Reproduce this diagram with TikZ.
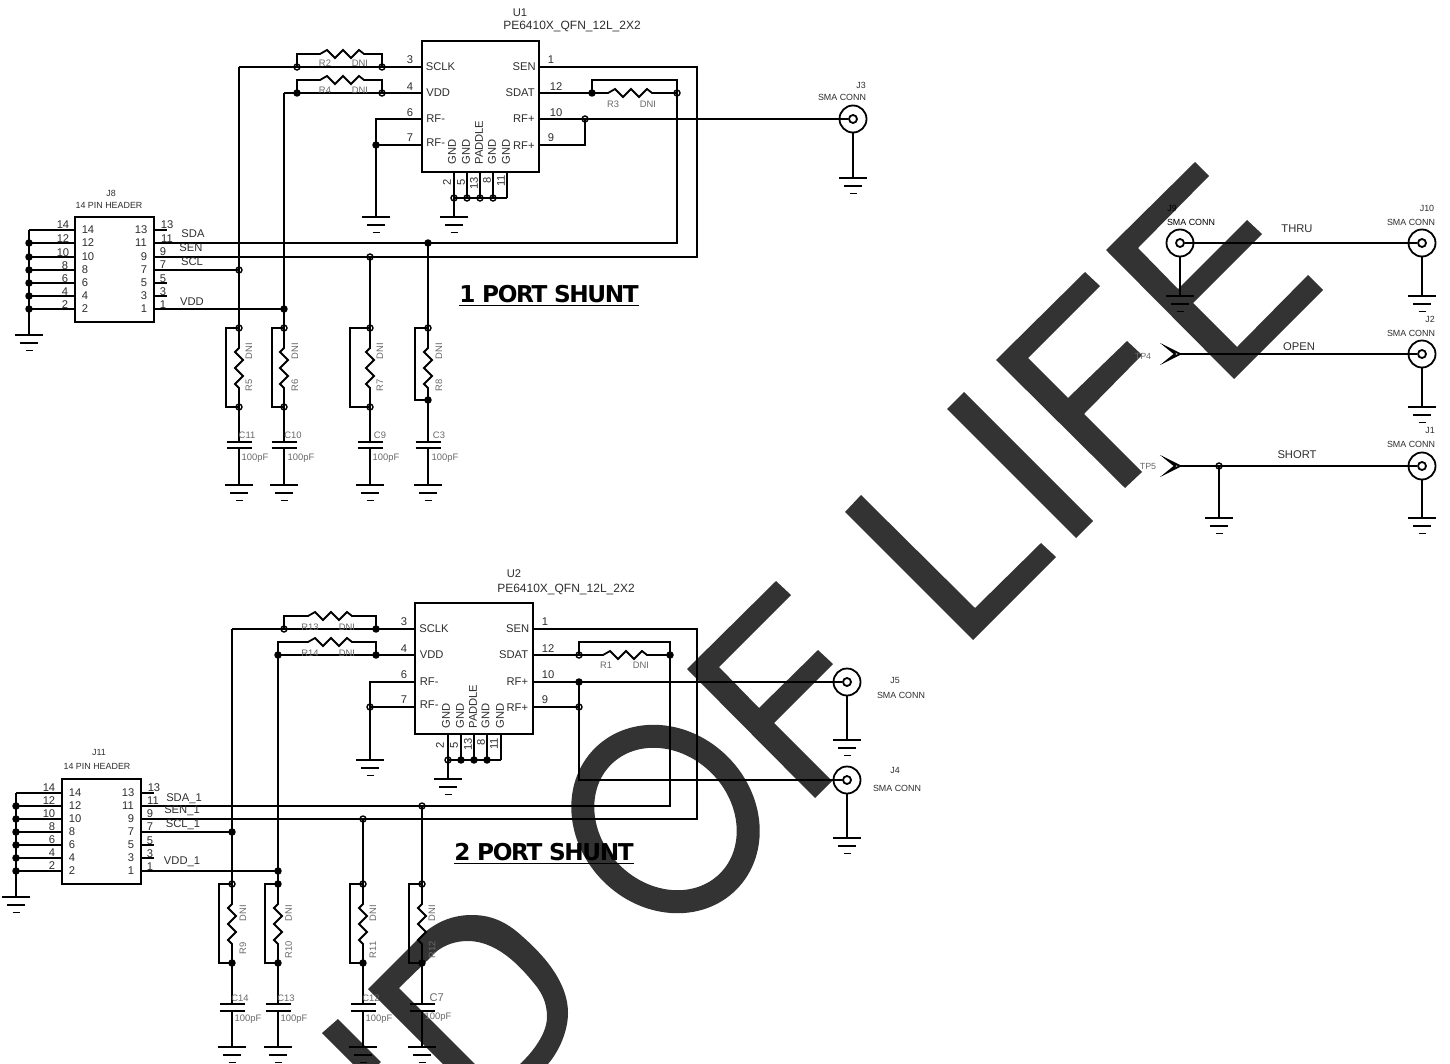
\documentclass[tikz,border=0pt]{standalone}
\usepackage{fontspec}
\setmainfont{Liberation Sans}
\newfontfamily\titlefont[LetterSpace=-6]{DejaVu Sans Bold}
\newcounter{lab}
\newcommand\T[4][pin]{\stepcounter{lab}\node[#1] (t\thelab) at (#2,#3) {#4};}
\newcommand\Cd[3]{\coordinate (#1) at (#2,#3);}
\newcommand\od[1]{\node[odot] (d#1) at (#1) {};}
\newcommand\fd[1]{\node[fdot] (d#1) at (#1) {};}
\newcommand\gnd[1]{\draw[gb] (#1) ++(-14,0) -- ++(28,0) ++(-23,8) -- ++(18,0) ++(-12.5,7.5) -- ++(7,0);}
\newcommand\sma[3]{\node[smao] (#1) at (#2,#3) {};\node[smai] (#1i) at (#2,#3) {};}
\newcommand\vres[5]{% name x ytop ybot xbypass
 \Cd{#1t}{#2}{#3}\Cd{#1b}{#2}{#4}\Cd{#1m}{#2}{#3+20}
 \draw[w] (#1t) -- (#1m) -- ++(-4,4) -- ++(8,8) -- ++(-8,8) -- ++(8,8) -- ++(-8,8) -- ++(4,4) -- (#1b);
 \draw[w] (#1t) -- (#5,#3) -- (#5,#4) -- (#1b);}
\newcommand\zz{-- ++(7,-4) -- ++(8,8) -- ++(8,-8) -- ++(8,8) -- ++(8,-8) -- ++(5,4)}
\tikzset{
 w/.style={line width=0.9pt,line cap=butt,line join=miter},
 gb/.style={line width=0.95pt},
 box/.style={draw,line width=1.05pt,inner sep=0pt},
 odot/.style={circle,draw,line width=0.7pt,inner sep=0pt,minimum size=3pt},
 fdot/.style={circle,draw,fill=black,line width=0.5pt,inner sep=0pt,minimum size=3.2pt},
 smao/.style={circle,draw,line width=0.9pt,inner sep=0pt,minimum size=13.5pt},
 smai/.style={circle,draw,line width=0.9pt,inner sep=0pt,minimum size=4pt},
 wm/.style={fill=wmc,draw=none},
 pin/.style={font=\fontsize{5.6}{6}\selectfont,text=tc,inner sep=0pt},
 part/.style={font=\fontsize{6}{7}\selectfont,text=tc,inner sep=0pt},
 tiny/.style={font=\fontsize{4.7}{5}\selectfont,text=gc,inner sep=0pt},
 tinyr/.style={tiny,rotate=90},
 sm/.style={font=\fontsize{4.45}{5}\selectfont,text=tc,inner sep=0pt},
 pinr/.style={pin,rotate=90},
 pinb/.style={pin,rotate=90,anchor=west},
 net/.style={font=\fontsize{5.6}{6}\selectfont,text=tc,inner sep=0pt},
 big/.style={font=\fontsize{11.6}{14}\titlefont,text=black,inner sep=0pt},
}
\definecolor{wmc}{HTML}{333333}
\definecolor{tc}{HTML}{2E2E2E}
\definecolor{gc}{HTML}{6A6A6A}
\begin{document}
\begin{tikzpicture}[x=0.5pt,y=-0.5pt]
\useasboundingbox (0,0) rectangle (1450,1064);
\fill[white] (0,0) rectangle (1450,1064);
\begin{scope}
\clip (0,0) rectangle (1450,1064);
% watermark
\fill[wm] (1195,162)--(1209,176)--(1138,248)--(1178,289)--(1247,220)--(1262,234)--(1193,303)--(1237,347)--(1308,275)--(1323,290)--(1234,379)--(1106,250)--cycle;
\fill[wm] (1085,272)--(1100,286)--(1028,358)--(1068,398)--(1127,341)--(1142,355)--(1084,414)--(1142,472)--(1125,488)--(996,360)--cycle;
\fill[wm] (964,392)--(947,409)--(1076,538)--(1093,521)--cycle;
\fill[wm] (861,495)--(975,608)--(1041,543)--(1056,557)--(973,640)--(845,512)--cycle;
\fill[wm] (776,581)--(791,595)--(719,667)--(759,708)--(818,650)--(833,664)--(774,723)--(832,781)--(815,798)--(687,669)--cycle;
\draw[wmc,line width=11.5pt] (665.5,819) ellipse [x radius=88.5,y radius=76.5,rotate=-45];
\fill[wm] (368,989)--(425,932) .. controls (440,920) and (455,915) .. (472,915) .. controls (495,915) and (510,925) .. (523,937) .. controls (540,952) and (568,980) .. (568,1013) .. controls (568,1030) and (560,1050) .. (548,1064)--(520,1064) .. controls (535,1050) and (547,1032) .. (547,1017) .. controls (547,1003) and (542,994) .. (537,987) .. controls (525,972) and (500,941) .. (468,941) .. controls (455,941) and (445,945) .. (437,951)--(399,988)--(475,1064)--(443,1064)--cycle;
\fill[wm] (338,1019)--(322,1033)--(365,1076)--(381,1062)--cycle;
\end{scope}

% ---------- circuit 1 ----------
\node[box,minimum width=58.5pt,minimum height=65.5pt] (U1) at (480.5,106.5) {};
\Cd{a3}{422}{67}\Cd{a4}{422}{93}\Cd{a6}{422}{119}\Cd{a7}{422}{145}
\Cd{a1}{539}{67}\Cd{a12}{539}{93}\Cd{a10}{539}{119}\Cd{a9}{539}{145}
\Cd{ax}{239}{67}\Cd{ay}{284}{93}
\Cd{ar2l}{297}{67}\Cd{ar2r}{382}{67}\Cd{ar4l}{297}{93}\Cd{ar4r}{382}{93}
\draw[w] (ax) -- (a3); \draw[w] (ay) -- (a4);
\draw[w] (ar2l) -- (297,54) -- (320,54) \zz -- (382,54) -- (ar2r);
\draw[w] (ar4l) -- (297,80) -- (320,80) \zz -- (382,80) -- (ar4r);
\od{ar2l}\od{ar2r}\fd{ar4l}\od{ar4r}
\T[tiny]{325}{63}{R2}\T[tiny]{360}{63}{DNI}\T[tiny]{325}{90}{R4}\T[tiny]{360}{90}{DNI}
% RF-
\Cd{ag}{376}{217}\Cd{an}{376}{119}\Cd{am}{376}{145}
\draw[w] (a6) -- (an) -- (ag); \draw[w] (a7) -- (am); \fd{am}\gnd{ag}
% bottom pins
\Cd{ab1}{454}{198}\Cd{ab2}{467}{198}\Cd{ab3}{480}{198}\Cd{ab4}{493}{198}\Cd{ab5}{507}{198}\Cd{abg}{454}{217}
\foreach \i/\x in {1/454,2/467,3/480,4/493,5/507}{\draw[w] (\x,172) -- (ab\i);}
\draw[w] (ab1) -- (ab5); \draw[w] (ab1) -- (abg); \gnd{abg}
\od{ab1}\od{ab2}\od{ab3}\od{ab4}
% right side
\Cd{aH11}{154}{243}\Cd{aH9}{154}{257}\Cd{aH7}{154}{270}\Cd{aH1}{154}{309}
\Cd{ar3l}{592}{93}\Cd{ar3r}{677}{93}
\draw[w] (a1) -- (697,67) -- (697,257) -- (aH9);
\draw[w] (a12) -- (ar3l) -- (608,93) \zz -- (ar3r) -- (677,243) -- (aH11);
\draw[w] (ar3l) -- (592,80) -- (677,80) -- (ar3r);
\fd{ar3l}\od{ar3r}
\T[tiny]{613}{104}{R3}\T[tiny]{648}{104}{DNI}
\sma{J3}{853}{119}
\Cd{ar}{585}{119}\Cd{a9r}{585}{145}\Cd{Jg3}{853}{178}
\draw[w] (a10) -- (J3i.west); \draw[w] (a9) -- (a9r) -- (ar); \od{ar}
\draw[w] (J3.south) -- (Jg3); \gnd{Jg3}
\T[sm]{861}{85}{J3}\T[sm]{842}{97}{SMA CONN}
% header J8
\node[box,minimum width=39.5pt,minimum height=52.5pt] (J8) at (114.5,269.5) {};
\draw[w] (29,230) -- (75,230);
\foreach \y in {243,257,270,283,296,309}{\draw[w] (29,\y) -- (75,\y);}
\Cd{agh}{29}{335}\draw[w] (29,230) -- (agh); \gnd{agh}
\foreach \y in {243,257,270,283,296,309}{\node[fdot] at (29,\y) {};}
\draw[w] (154,230) -- (167,230); \draw[w] (154,283) -- (167,283); \draw[w] (154,296) -- (167,296);
% vertical nets
\Cd{aj7}{239}{270}\Cd{aj1}{284}{309}\Cd{aj9}{370}{257}\Cd{aj11}{428}{243}
\draw[w] (aH7) -- (aj7); \draw[w] (aH1) -- (aj1);
\draw[w] (ax) -- (239,328); \draw[w] (ay) -- (284,328);
\draw[w] (aj9) -- (370,328); \draw[w] (aj11) -- (428,328);
\vres{aR5}{239}{328}{407}{226}\vres{aR6}{284}{328}{407}{272}\vres{aR7}{370}{328}{407}{350}\vres{aR8}{428}{328}{400}{415}
\od{aj7}\fd{aj1}\od{aj9}\fd{aj11}
\od{aR5t}\od{aR6t}\od{aR7t}\od{aR8t}\od{aR5b}\od{aR6b}\od{aR7b}\fd{aR8b}
\foreach \n/\x/\yb in {a/239/407,b/284/407,c/370/407,d/428/400}{
 \coordinate (ac\n) at (\x,442); \coordinate (ad\n) at (\x,448); \coordinate (ae\n) at (\x,485); \coordinate (af\n) at (\x,\yb);
 \draw[w] (af\n) -- (ac\n); \draw[w] (ad\n) -- (ae\n);
 \draw[gb] (ac\n) ++(-12.5,0) -- ++(25,0); \draw[gb] (ad\n) ++(-12.5,0) -- ++(25,0);
 \gnd{ae\n}}
% circuit 1 labels
\T{520}{12.5}{U1}\T[part]{572}{27}{PE6410X\_QFN\_12L\_2X2}
\T{410}{60}{3}\T{410}{87}{4}\T{410}{113}{6}\T{410}{138}{7}
\T{551}{60}{1}\T{556}{87}{12}\T{556}{113}{10}\T{551}{138}{9}
\T[pin,anchor=west]{425.5}{67}{SCLK}\T[pin,anchor=west]{426}{93}{VDD}\T[pin,anchor=west]{426}{119}{RF-}\T[pin,anchor=west]{426}{143}{RF-}
\T[pin,anchor=east]{536}{67}{SEN}\T[pin,anchor=east]{535}{93}{SDAT}\T[pin,anchor=east]{535}{119}{RF+}\T[pin,anchor=east]{535}{146}{RF+}
\T[pinb]{452}{165}{GND}\T[pinb]{466}{165}{GND}\T[pinb]{479}{165}{PADDLE}\T[pinb]{492}{165}{GND}\T[pinb]{506}{165}{GND}
\T[pinr]{447}{182}{2}\T[pinr]{461}{182}{5}\T[pinr]{474}{183}{13}\T[pinr]{487}{180}{8}\T[pinr]{501}{181}{11}
\T[sm]{111}{193}{J8}\T[sm]{109}{205}{14 PIN HEADER}
\T{63}{225}{14}\T{63}{239}{12}\T{63}{253}{10}\T{65}{266}{8}\T{65}{279}{6}\T{65}{292}{4}\T{65}{305}{2}
\T{88}{230}{14}\T{88}{243}{12}\T{88}{257}{10}\T{85}{270}{8}\T{85}{283}{6}\T{85}{296}{4}\T{85}{309}{2}
\T{141}{230}{13}\T{141}{243}{11}\T{144}{257}{9}\T{144}{270}{7}\T{144}{283}{5}\T{144}{296}{3}\T{144}{309}{1}
\T{167}{225}{13}\T{167}{239}{11}\T{163}{252}{9}\T{163}{265}{7}\T{163}{279}{5}\T{163}{292}{3}\T{163}{305}{1}
\T[net]{193}{233.5}{SDA}\T[net]{191}{248}{SEN}\T[net]{192}{262}{SCL}\T[net]{192}{302}{VDD}
\T[tinyr]{249}{351}{DNI}\T[tinyr]{249}{385}{R5}\T[tinyr]{295}{351}{DNI}\T[tinyr]{295}{385}{R6}\T[tinyr]{380}{351}{DNI}\T[tinyr]{380}{385}{R7}\T[tinyr]{439}{351}{DNI}\T[tinyr]{439}{385}{R8}
\T[tiny]{247}{435}{C11}\T[tiny]{255}{458}{100pF}\T[tiny]{293}{435}{C10}\T[tiny]{301}{458}{100pF}\T[tiny]{380}{435}{C9}\T[tiny]{386}{458}{100pF}\T[tiny]{439}{435}{C3}\T[tiny]{445}{458}{100pF}
\T[big]{549}{296}{\underline{1 PORT SHUNT}}

% ---------- test structures ----------
\sma{J9}{1180}{243}\sma{J10}{1422}{243}\sma{J2}{1422}{354}\sma{J1}{1422}{466}
\Cd{Tg9}{1180}{296}\Cd{Tg10}{1422}{296}\Cd{Tg2}{1422}{407}\Cd{Tg1}{1422}{518}
\draw[w] (J9i.east) -- (J10i.west);
\draw[w] (J9.south) -- (Tg9); \draw[w] (J10.south) -- (Tg10); \draw[w] (J2.south) -- (Tg2); \draw[w] (J1.south) -- (Tg1);
\gnd{Tg9}\gnd{Tg10}\gnd{Tg2}\gnd{Tg1}
\Cd{TP4}{1180}{354}\Cd{TP5}{1180}{466}\Cd{Tj}{1219}{466}\Cd{Tg5}{1219}{518}
\draw[w] (TP4) -- (J2i.west); \draw[w] (TP5) -- (J1i.west); \draw[w] (Tj) -- (Tg5); \od{Tj}\gnd{Tg5}
\draw[w] (1167,347.5) -- (TP4) -- (1167,360.5) -- (1175,354) -- cycle;
\draw[w] (1167,459.5) -- (TP5) -- (1167,472.5) -- (1175,466) -- cycle;
\T[sm,text=black]{1172}{208}{J9}\T[sm,text=black]{1191}{222}{SMA CONN}\T[sm]{1427}{208}{J10}\T[sm]{1411}{222}{SMA CONN}
\T[sm]{1430}{319}{J2}\T[sm]{1411}{333}{SMA CONN}\T[sm]{1430}{430}{J1}\T[sm]{1411}{444}{SMA CONN}
\T[net]{1297}{229}{THRU}\T[net]{1299}{347}{OPEN}\T[net]{1297}{455}{SHORT}
\T[sm,text=gc]{1143}{356}{TP4}\T[sm,text=gc]{1148}{466}{TP5}

% ---------- circuit 2 ----------
\node[box,minimum width=59pt,minimum height=65.5pt] (U2) at (474,668.5) {};
\Cd{b3}{415}{629}\Cd{b4}{415}{655}\Cd{b6}{415}{682}\Cd{b7}{415}{707}
\Cd{b1}{533}{629}\Cd{b12}{533}{655}\Cd{b10}{533}{682}\Cd{b9}{533}{707}
\Cd{bx}{232}{629}\Cd{by}{278}{655}
\Cd{br2l}{284}{629}\Cd{br2r}{376}{629}\Cd{br4l}{278}{655}\Cd{br4r}{376}{655}
\draw[w] (bx) -- (b3); \draw[w] (by) -- (b4);
\draw[w] (br2l) -- (284,616) -- (308,616) \zz -- (376,616) -- (br2r);
\draw[w] (br4l) -- (278,642) -- (308,642) \zz -- (376,642) -- (br4r);
\od{br2l}\fd{br2r}\fd{br4l}\fd{br4r}
\T[tiny]{310}{627}{R13}\T[tiny]{347}{627}{DNI}\T[tiny]{310}{653}{R14}\T[tiny]{347}{653}{DNI}
\Cd{bg}{370}{760}\Cd{bn}{370}{682}\Cd{bm}{370}{707}
\draw[w] (b6) -- (bn) -- (bg); \draw[w] (b7) -- (bm); \od{bm}\gnd{bg}
\Cd{bb1}{448}{760}\Cd{bb2}{461}{760}\Cd{bb3}{474}{760}\Cd{bb4}{487}{760}\Cd{bb5}{501}{760}\Cd{bbg}{448}{779}
\foreach \i/\x in {1/448,2/461,3/474,4/487,5/501}{\draw[w] (\x,734) -- (bb\i);}
\draw[w] (bb1) -- (bb5); \draw[w] (bb1) -- (bbg); \gnd{bbg}
\od{bb1}\fd{bb2}\fd{bb3}\fd{bb4}
\Cd{bH11}{141}{806}\Cd{bH9}{141}{819}\Cd{bH7}{141}{832}\Cd{bH1}{141}{871}
\Cd{br3l}{579}{655}\Cd{br3r}{670}{655}
\draw[w] (b1) -- (697,629) -- (697,819) -- (bH9);
\draw[w] (b12) -- (br3l) -- (603,655) \zz -- (br3r) -- (670,806) -- (bH11);
\draw[w] (br3l) -- (579,642) -- (670,642) -- (br3r);
\od{br3l}\fd{br3r}
\T[tiny]{606}{665}{R1}\T[tiny]{641}{665}{DNI}
\sma{J5}{847}{682}\sma{J4}{847}{780}
\Cd{br}{579}{682}\Cd{b9r}{579}{707}\Cd{bl}{579}{780}\Cd{Jg5}{847}{740}\Cd{Jg4}{847}{838}
\draw[w] (b10) -- (J5i.west); \draw[w] (b9) -- (b9r); \draw[w] (br) -- (bl) -- (J4i.west);
\fd{br}\od{b9r}
\draw[w] (J5.south) -- (Jg5); \draw[w] (J4.south) -- (Jg4); \gnd{Jg5}\gnd{Jg4}
\T[sm]{895}{680}{J5}\T[sm]{901}{695}{SMA CONN}\T[sm]{895}{770}{J4}\T[sm]{897}{788}{SMA CONN}
% header J11
\node[box,minimum width=39.5pt,minimum height=52.5pt] (J11) at (101.5,831.5) {};
\draw[w] (16,793) -- (62,793);
\foreach \y in {806,819,832,845,858,871}{\draw[w] (16,\y) -- (62,\y);}
\Cd{bgh}{16}{897}\draw[w] (16,793) -- (bgh); \gnd{bgh}
\foreach \y in {806,819,832,845,858,871}{\node[fdot] at (16,\y) {};}
\draw[w] (141,793) -- (154,793); \draw[w] (141,845) -- (154,845); \draw[w] (141,858) -- (154,858);
\Cd{bj7}{232}{832}\Cd{bj1}{278}{871}\Cd{bj9}{363}{819}\Cd{bj11}{422}{806}
\draw[w] (bH7) -- (bj7); \draw[w] (bH1) -- (bj1);
\draw[w] (bx) -- (232,884); \draw[w] (by) -- (278,884);
\draw[w] (bj9) -- (363,884); \draw[w] (bj11) -- (422,884);
\vres{bR5}{232}{884}{963}{219}\vres{bR6}{278}{884}{963}{265}\vres{bR7}{363}{884}{963}{350}\vres{bR8}{422}{884}{963}{409}
\fd{bj7}\fd{bj1}\od{bj9}\od{bj11}
\od{bR5t}\fd{bR6t}\od{bR7t}\od{bR8t}\fd{bR5b}\fd{bR6b}\fd{bR7b}\fd{bR8b}
\foreach \n/\x in {a/232,b/278,c/363,d/422}{
 \coordinate (bc\n) at (\x,1004); \coordinate (bd\n) at (\x,1011); \coordinate (be\n) at (\x,1047); \coordinate (bf\n) at (\x,963);
 \draw[w] (bf\n) -- (bc\n); \draw[w] (bd\n) -- (be\n);
 \draw[gb] (bc\n) ++(-12.5,0) -- ++(25,0); \draw[gb] (bd\n) ++(-12.5,0) -- ++(25,0);
 \gnd{be\n}}
\T{514}{573.5}{U2}\T[part]{566}{589}{PE6410X\_QFN\_12L\_2X2}
\T{404}{622}{3}\T{404}{649}{4}\T{404}{675}{6}\T{404}{700}{7}
\T{545}{622}{1}\T{548}{649}{12}\T{548}{675}{10}\T{545}{700}{9}
\T[pin,anchor=west]{419}{629}{SCLK}\T[pin,anchor=west]{419.5}{655}{VDD}\T[pin,anchor=west]{419.5}{682}{RF-}\T[pin,anchor=west]{419.5}{705}{RF-}
\T[pin,anchor=east]{529.5}{629}{SEN}\T[pin,anchor=east]{528.5}{655}{SDAT}\T[pin,anchor=east]{528.5}{682}{RF+}\T[pin,anchor=east]{528.5}{708}{RF+}
\T[pinb]{446}{729}{GND}\T[pinb]{460}{729}{GND}\T[pinb]{473}{729}{PADDLE}\T[pinb]{485.5}{729}{GND}\T[pinb]{500}{729}{GND}
\T[pinr]{440}{745}{2}\T[pinr]{454}{745}{5}\T[pinr]{468}{744}{13}\T[pinr]{481}{742}{8}\T[pinr]{494}{744}{11}
\T[sm]{99}{752}{J11}\T[sm]{97}{766}{14 PIN HEADER}
\T{49}{788}{14}\T{49}{801}{12}\T{49}{814}{10}\T{52}{827}{8}\T{52}{840}{6}\T{52}{853}{4}\T{52}{866}{2}
\T{75}{793}{14}\T{75}{806}{12}\T{75}{819}{10}\T{72}{832}{8}\T{72}{845}{6}\T{72}{858}{4}\T{72}{871}{2}
\T{128}{793}{13}\T{128}{806}{11}\T{131}{819}{9}\T{131}{832}{7}\T{131}{845}{5}\T{131}{858}{3}\T{131}{871}{1}
\T{154}{788}{13}\T{153}{801}{11}\T{150}{814}{9}\T{150}{827}{7}\T{150}{841}{5}\T{150}{854}{3}\T{150}{867}{1}
\T[net]{184}{799}{SDA\_1}\T[net]{182}{811}{SEN\_1}\T[net]{183}{825}{SCL\_1}\T[net]{182}{862}{VDD\_1}
\T[tinyr]{243}{913}{DNI}\T[tinyr]{243}{948}{R9}\T[tinyr]{288.7}{913}{DNI}\T[tinyr]{288.7}{950}{R10}\T[tinyr]{373}{913}{DNI}\T[tinyr]{373}{950}{R11}\T[tinyr]{432}{913}{DNI}\T[tinyr]{432}{950}{R12}
\T[tiny]{240}{998}{C14}\T[tiny]{248}{1019}{100pF}\T[tiny]{286}{998}{C13}\T[tiny]{294}{1019}{100pF}\T[tiny]{371}{998}{C12}\T[tiny]{379}{1019}{100pF}\T[pin,text=gc]{436.7}{998}{C7}\T[tiny]{438}{1017}{100pF}
\T[big]{544}{854}{\underline{2 PORT SHUNT}}
\end{tikzpicture}
\end{document}
